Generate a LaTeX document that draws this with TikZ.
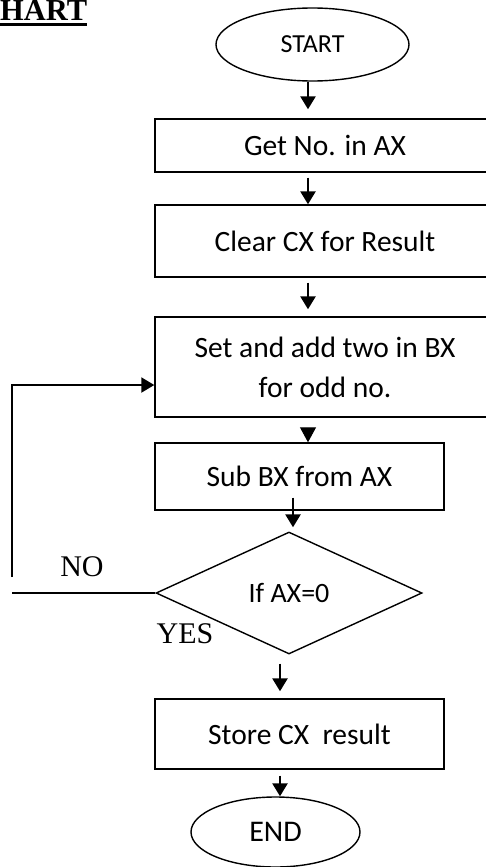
\documentclass[tikz,border=0pt]{standalone}
\usepackage{fontspec}
\setmainfont{Carlito}
\newfontfamily\labelfont{Liberation Serif}
\usetikzlibrary{shapes.geometric,arrows.meta}

\begin{document}
\begin{tikzpicture}[x=1pt, y=-1pt,
    flowBox/.style={rectangle, draw, line width=1.4pt, inner sep=0pt, align=center, font=\fontsize{29.5}{40}\selectfont},
    flowTerm/.style={ellipse, draw, line width=1.4pt, inner sep=0pt, font=\fontsize{26}{30}\selectfont},
    flowDec/.style={diamond, draw, line width=1.4pt, inner sep=0pt, font=\fontsize{28}{30}\selectfont},
    flowLine/.style={line width=1.6pt},
    flowArrow/.style={line width=2.6pt, -{Triangle[width=15pt,length=13pt]}},
    flowLabel/.style={font=\labelfont\fontsize{30}{32}\selectfont}
]
\useasboundingbox (0,0) rectangle (486,867);

% heading
\node[flowLabel, font=\labelfont\bfseries\fontsize{30.5}{32}\selectfont, anchor=base west, inner sep=0pt] (title) at (0,20.5) {HART};
\draw[line width=2.6pt] ([yshift=-4pt]title.base west) -- ([yshift=-4pt]title.base east);

% main column
\node[flowTerm, minimum width=193pt, minimum height=73pt] (start) at (312.5,44.5) {START};
\node[flowBox, minimum width=340pt, minimum height=53pt] (getno) at (325,145.5) {Get No. in AX};
\node[flowBox, minimum width=340pt, minimum height=72pt] (clear) at (325,241) {Clear CX for Result};
\node[flowBox, minimum width=340pt, minimum height=100pt] (setbx) at (325,367) {Set and add two in BX\\for odd no.};
\node[flowBox, minimum width=289pt, minimum height=67pt] (sub) at (299.5,476.5) {Sub BX from AX};
\node[flowDec, minimum width=266pt, minimum height=122pt] (dec) at (289,593) {If AX=0};
\node[flowBox, minimum width=289pt, minimum height=70pt] (store) at (299.5,734) {Store CX\ \ result};
\node[flowTerm, minimum width=169pt, minimum height=70pt, font=\fontsize{30}{32}\selectfont] (stop) at (275.5,832) {END};

% arrow columns
\coordinate (axisA) at (308,0);
\coordinate (axisB) at (293,0);
\coordinate (axisC) at (280,0);

\draw[flowArrow, shorten >=9pt] (start.south -| axisA) -- (getno.north -| axisA);
\draw[flowArrow, shorten <=5pt] (getno.south -| axisA) -- (clear.north -| axisA);
\draw[flowArrow, shorten <=5pt, shorten >=7pt] (clear.south -| axisA) -- (setbx.north -| axisA);
\draw[line width=1pt, -{Triangle[width=16pt,length=15pt]}, shorten <=11pt] (setbx.south -| axisA) -- (sub.north -| axisA);
\draw[flowArrow, shorten <=-13pt, shorten >=4pt] (sub.south -| axisB) -- (dec.north -| axisB);
\draw[flowArrow, shorten <=9pt, shorten >=7pt] (dec.south -| axisC) -- (store.north -| axisC);
\draw[flowArrow, shorten <=6pt] (store.south -| axisC) -- (stop.north -| axisC);

% NO branch back to setbx
\coordinate (noEnd) at (12,593);
\coordinate (loopBot) at (12,577);
\coordinate (loopTop) at (12,385);
\draw[flowLine] (dec.west) -- (noEnd);
\draw[line width=2pt, -{Triangle[width=15pt,length=13pt]}] (loopBot) -- (loopTop) -- (setbx.west |- loopTop);

\node[flowLabel] (nolbl) at (82,567) {NO};
\node[flowLabel] (yeslbl) at (185,634) {YES};
\end{tikzpicture}
\end{document}
